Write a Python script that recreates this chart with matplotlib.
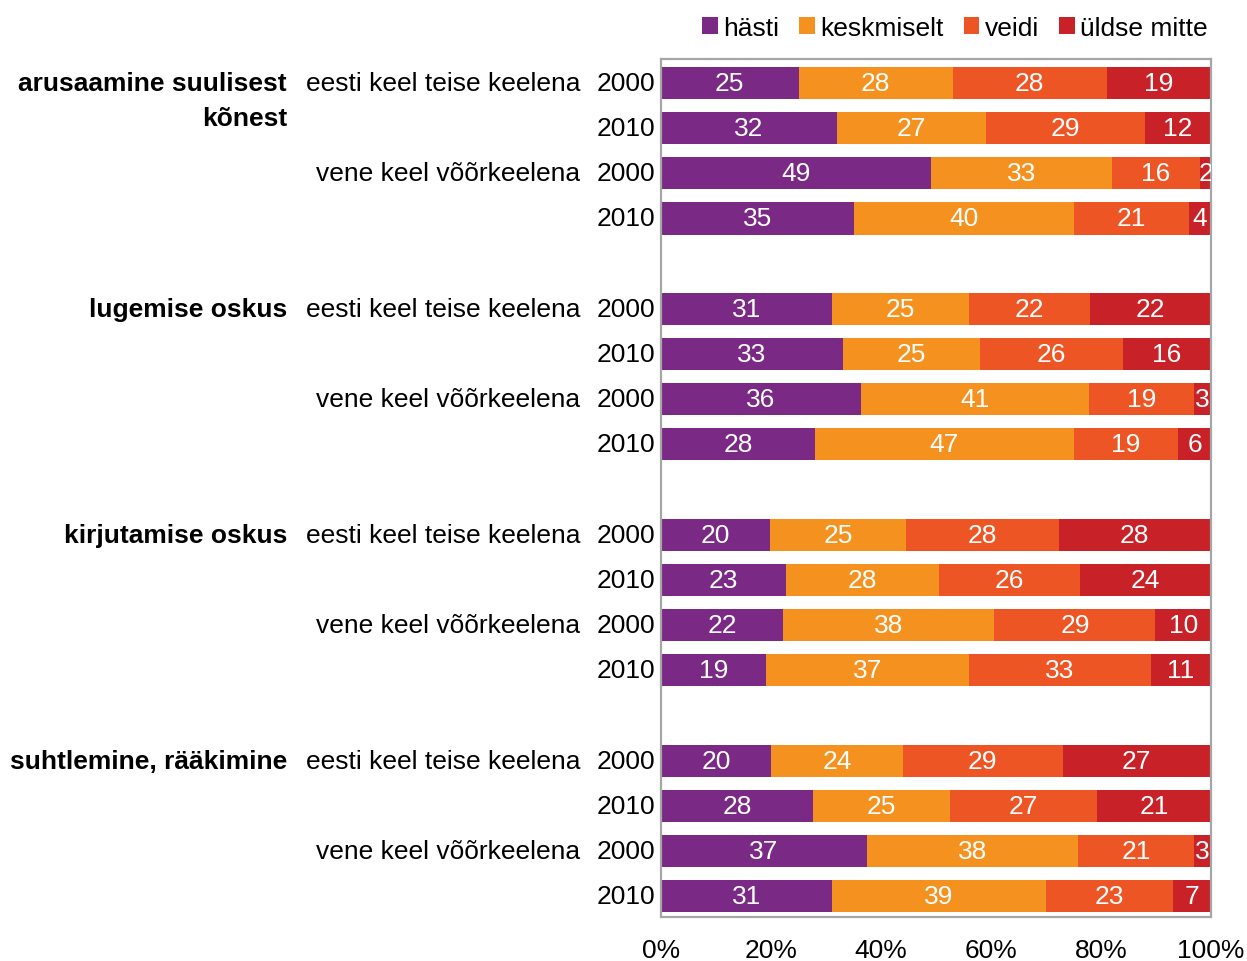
import matplotlib
matplotlib.use("Agg")
import matplotlib.pyplot as plt
from matplotlib.patches import Patch
import numpy as np

plt.rcParams['font.family'] = ['Liberation Sans', 'DejaVu Sans']

categories = ["arusaamine suulisest\nkõnest", "lugemise oskus", "kirjutamise oskus", "suhtlemine, rääkimine"]
languages = ["eesti keel teise keelena", "vene keel võõrkeelena"]
years = ["2000", "2010"]
series = ["hästi", "keskmiselt", "veidi", "üldse mitte"]
colors = ["#7A2984", "#F5921F", "#EE5524", "#C82128"]

# rows: for each category -> eesti 2000, eesti 2010, vene 2000, vene 2010
hasti       = [25, 32, 49, 35,  31, 33, 36, 28,  20, 23, 22, 19,  20, 28, 37, 31]
keskmiselt  = [28, 27, 33, 40,  25, 25, 41, 47,  25, 28, 38, 37,  24, 25, 38, 39]
veidi       = [28, 29, 16, 21,  22, 26, 19, 19,  28, 26, 29, 33,  29, 27, 21, 23]
uldse_mitte = [19, 12,  2,  4,  22, 16,  3,  6,  28, 24, 10, 11,  27, 21,  3,  7]

vals = np.array([hasti, keskmiselt, veidi, uldse_mitte], dtype=float)
totals = vals.sum(axis=0)
shares = vals / totals * 100

fig = plt.figure(figsize=(12.47, 9.62), dpi=100)
ax = fig.add_axes([661/1247, 1 - 918/962, 550/1247, (918-60)/962])

FS = 19
n = vals.shape[1]
ypos = np.array([(i // 4) * 5 + (i % 4) for i in range(n)], dtype=float)

left = np.zeros(n)
for s in range(4):
    ax.barh(ypos, shares[s], left=left, height=0.71, color=colors[s], edgecolor='none')
    for j in range(n):
        t = ax.text(left[j] + shares[s][j] / 2, ypos[j], f"{int(vals[s][j])}",
                    ha='center', va='center', color='white', fontsize=FS)
        t.set_clip_on(True)
    left += shares[s]

ax.set_xlim(0, 100)
ax.set_ylim(18.46, -0.53)
ax.set_yticks([])
ax.set_xticks([0, 20, 40, 60, 80, 100])
ax.set_xticklabels(["0%", "20%", "40%", "60%", "80%", "100%"], fontsize=FS)
ax.tick_params(axis='x', length=0, pad=15)
for sp in ax.spines.values():
    sp.set_color('#A6A6A6')
    sp.set_linewidth(1.6)

# year labels
for j in range(n):
    ax.annotate(years[j % 2], xy=(0, ypos[j]), xycoords=('axes fraction', 'data'),
                xytext=(-4, 0), textcoords='offset points', ha='right', va='center', fontsize=FS)

# language labels
for j in range(0, n, 2):
    lang = languages[(j // 2) % 2]
    ax.annotate(lang, xy=(0, ypos[j]), xycoords=('axes fraction', 'data'),
                xytext=(-(661 - 580) * 0.72, 0), textcoords='offset points',
                ha='right', va='center', fontsize=FS, annotation_clip=False)

# category labels
for g, cat in enumerate(categories):
    for k, line in enumerate(cat.split("\n")):
        ax.annotate(line, xy=(0, g * 5 + k * 0.77), xycoords=('axes fraction', 'data'),
                    xytext=(-(661 - 287) * 0.72, 0), textcoords='offset points',
                    ha='right', va='center', fontsize=FS, fontweight='bold', annotation_clip=False)

handles = [Patch(facecolor=c, edgecolor='none') for c in colors]
fig.legend(handles, series, loc='upper right', bbox_to_anchor=(1218/1247, 1 - 6/962), ncol=4,
           frameon=False, fontsize=FS, handlelength=0.6, handleheight=0.6,
           handletextpad=0.2, columnspacing=0.75, borderaxespad=0)

fig.savefig("out.png", dpi=100)
